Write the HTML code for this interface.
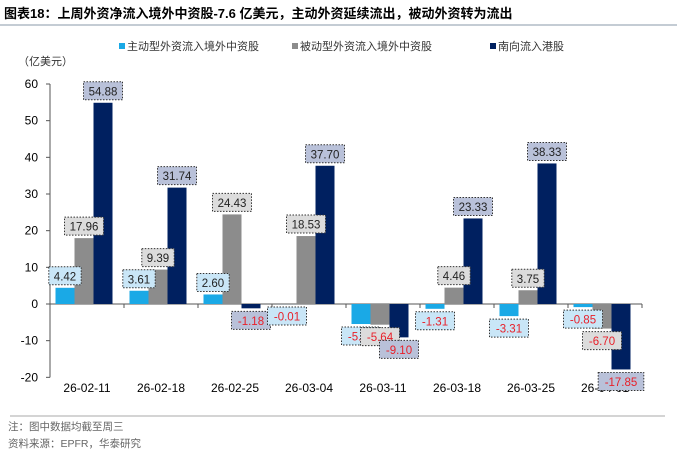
<!DOCTYPE html>
<html><head><meta charset="utf-8"><style>
body{margin:0;background:#fff;width:677px;height:463px;overflow:hidden;font-family:"Liberation Sans","Noto Sans CJK SC",sans-serif}
</style></head><body>
<svg width="677" height="463" xmlns="http://www.w3.org/2000/svg">
<text x="4" y="18" font-size="13" font-weight="bold" fill="#000">图表18：上周外资净流入境外中资股-7.6 亿美元，主动外资延续流出，被动外资转为流出</text>
<line x1="0" y1="25" x2="677" y2="25" stroke="#8a9aaa" stroke-width="1"/>
<g id="legend" font-size="11" fill="#333"></g>
<text x="18" y="65" font-size="11" fill="#333">（亿美元）</text>
<g id="plot"></g>
<line x1="10" y1="416" x2="665" y2="416" stroke="#aaa" stroke-width="1"/>
<text x="8" y="430" font-size="10.5" fill="#666">注：图中数据均截至周三</text>
<text x="8" y="447" font-size="10.5" fill="#666">资料来源：EPFR，华泰研究</text>
</svg>
<script>
const categories=["26-02-11","26-02-18","26-02-25","26-03-04","26-03-11","26-03-18","26-03-25","26-04-01"];
const activeVals=[4.42,3.61,2.60,-0.01,-5.46,-1.31,-3.31,-0.85];
const passiveVals=[17.96,9.39,24.43,18.53,-5.64,4.46,3.75,-6.70];
const southVals=[54.88,31.74,-1.18,37.70,-9.10,23.33,38.33,-17.85];
const yTicks=[60,50,40,30,20,10,0,-10,-20];
const seriesNames=["主动型外资流入境外中资股","被动型外资流入境外中资股","南向流入港股"];
const NS="http://www.w3.org/2000/svg";
const x0=50,catW=74,y0=304,pxU=220/60,bw=19;
const y=v=>y0-v*pxU;
const colors=["#1aa9e6","#8c8c8c","#002060"];
const fills=["#c9e6f7","#dcdcdc","#b9c1d9"];
const plot=document.getElementById('plot');
function mk(t,a,p){const e=document.createElementNS(NS,t);for(const k in a)e.setAttribute(k,a[k]);(p||plot).appendChild(e);return e;}
let ax=mk('line',{x1:x0,y1:y(60),x2:x0,y2:y(-20),stroke:'#555'});


yTicks.forEach(t=>{
 mk('line',{x1:x0-4,y1:y(t),x2:x0,y2:y(t),stroke:'#555'});
 const tx=mk('text',{x:x0-12,y:y(t)+4,'font-size':12,'text-anchor':'end',fill:'#000'});
 tx.textContent=t;
 
 
});
const xa=mk('line',{x1:x0,y1:y0,x2:x0+catW*categories.length,y2:y0,stroke:'#555'});


for(let i=0;i<=categories.length;i++)mk('line',{x1:x0+catW*i,y1:y0,x2:x0+catW*i,y2:y0+4,stroke:'#555'});
const series=[activeVals,passiveVals,southVals];
const labels=[];
categories.forEach((c,i)=>{
 const cx=x0+catW*i+catW/2-3;
 const t=mk('text',{x:cx+3,y:392,'font-size':12,'text-anchor':'middle',fill:'#000'});
 t.textContent=c;
 
 
 series.forEach((s,j)=>{
  const v=s[i];const bx=cx-1.5*bw+j*bw;
  const r=mk('rect',{x:bx,y:Math.min(y(v),y0),width:bw,height:Math.abs(y(v)-y0),fill:colors[j]});
  
  
  labels.push([bx+bw/2,v,j]);
 });
});
labels.forEach(([lx,v,j])=>{
 const txt=v.toFixed(2);const w=txt.length*6.6+6;
 const ly=v>=0?y(v)-12:Math.max(y(v),y0)+12;
 const g=mk('g',{});
 
 
 mk('rect',{x:lx-w/2,y:ly-9,width:w,height:18,fill:fills[j],stroke:'#333','stroke-dasharray':'1.5,1.5','stroke-width':1},g);
 const t=mk('text',{x:lx,y:ly+4.5,'font-size':11.5,'text-anchor':'middle',fill:v<0?'#e8202a':'#222'},g);
 t.textContent=txt;
});
const lg=document.getElementById('legend');
[[127,seriesNames[0]],[300,seriesNames[1]],[498,seriesNames[2]]].forEach(([lx,n],j)=>{
 const g=mk('g',{},lg);
 
 
 mk('rect',{x:lx-8,y:43,width:6,height:6,fill:colors[j]},g);
 const t=mk('text',{x:lx,y:50,'font-size':11,fill:'#333'},g);t.textContent=n;
});
</script>
</body></html>
